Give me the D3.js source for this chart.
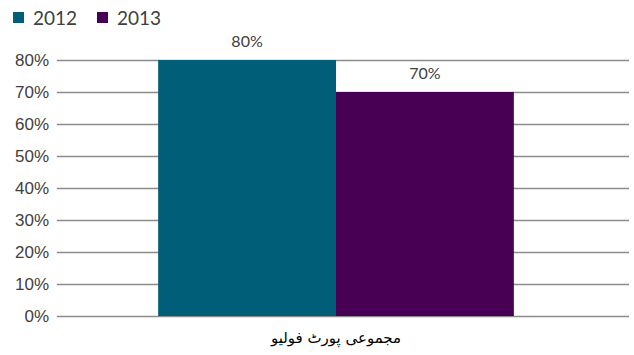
<!DOCTYPE html>
<html>
<head>
<meta charset="utf-8">
<script src="https://cdn.jsdelivr.net/npm/d3@7"></script>
<style>
  html, body { margin: 0; padding: 0; background: #fff; }
  svg { display: block; font-family: "Lato", "Open Sans", sans-serif; }
</style>
</head>
<body>
<svg id="chart" width="634" height="355"></svg>
<script>
// Portfolio share by year
const categories = ["مجموعی پورٹ فولیو"];
const seriesNames = ["2012", "2013"];
const values2012 = [0.80];
const values2013 = [0.70];
const yTicks = [0, 0.1, 0.2, 0.3, 0.4, 0.5, 0.6, 0.7, 0.8];
const colors = ["#005e78", "#480055"];

const seriesValues = [values2012, values2013];

const svg = d3.select("#chart");
const W = 634, H = 355;
const plotLeft = 57, gridRight = 629, barRight = 615;
const plotTop = 60, plotBottom = 316;

const x0 = d3.scaleBand()
  .domain(categories)
  .range([plotLeft, barRight])
  .padding(0.2214);

const x1 = d3.scaleBand()
  .domain(seriesNames)
  .range([0, x0.bandwidth()])
  .padding(0);

const y = d3.scaleLinear()
  .domain([0, 0.8])
  .range([plotBottom, plotTop]);

// gridlines + tick labels
const yAxis = d3.axisLeft(y)
  .tickValues(yTicks)
  .tickFormat(d3.format(".0%"))
  .tickSize(-(gridRight - plotLeft))
  .tickPadding(8);

const gy = svg.append("g")
  .attr("transform", `translate(${plotLeft},0)`)
  .call(yAxis);
gy.select(".domain").remove();
gy.selectAll(".tick line").attr("stroke", "#8c8c8c").attr("stroke-width", 1.3);
gy.selectAll(".tick text")
  .attr("fill", "#404040")
  .style("font-size", "17px")
  .attr("dy", "0.35em");

// bars
const groups = svg.append("g")
  .selectAll("g")
  .data(categories)
  .join("g")
  .attr("transform", d => `translate(${x0(d)},0)`);

groups.selectAll("rect")
  .data((d, i) => seriesNames.map((s, k) => ({ s, k, v: seriesValues[k][i] })))
  .join("rect")
  .attr("x", d => x1(d.s))
  .attr("width", x1.bandwidth())
  .attr("y", d => y(d.v))
  .attr("height", d => y(0) - y(d.v))
  .attr("fill", d => colors[d.k]);

// value labels
groups.selectAll("text.val")
  .data((d, i) => seriesNames.map((s, k) => ({ s, k, v: seriesValues[k][i] })))
  .join("text")
  .attr("class", "val")
  .attr("x", d => x1(d.s) + x1.bandwidth() / 2)
  .attr("y", d => y(d.v) - 13)
  .attr("text-anchor", "middle")
  .attr("fill", "#404040")
  .style("font-size", "16px")
  .text(d => d3.format(".0%")(d.v));

// category label
svg.append("g")
  .selectAll("text")
  .data(categories)
  .join("text")
  .attr("x", d => x0(d) + x0.bandwidth() / 2)
  .attr("y", plotBottom + 27)
  .attr("text-anchor", "middle")
  .attr("direction", "rtl")
  .attr("fill", "#000")
  .style("font-family", "'DejaVu Sans', sans-serif")
  .style("font-size", "15px")
  .text(d => d);

// legend
const legend = svg.append("g").attr("transform", "translate(13,12)");
const items = legend.selectAll("g")
  .data(seriesNames)
  .join("g")
  .attr("transform", (d, i) => `translate(${i * 84},0)`);
items.append("rect")
  .attr("width", 11).attr("height", 11)
  .attr("fill", (d, i) => colors[i]);
items.append("text")
  .attr("x", 20).attr("y", 13)
  .attr("fill", "#404040")
  .style("font-size", "19px")
  .text(d => d);
</script>
</body>
</html>
